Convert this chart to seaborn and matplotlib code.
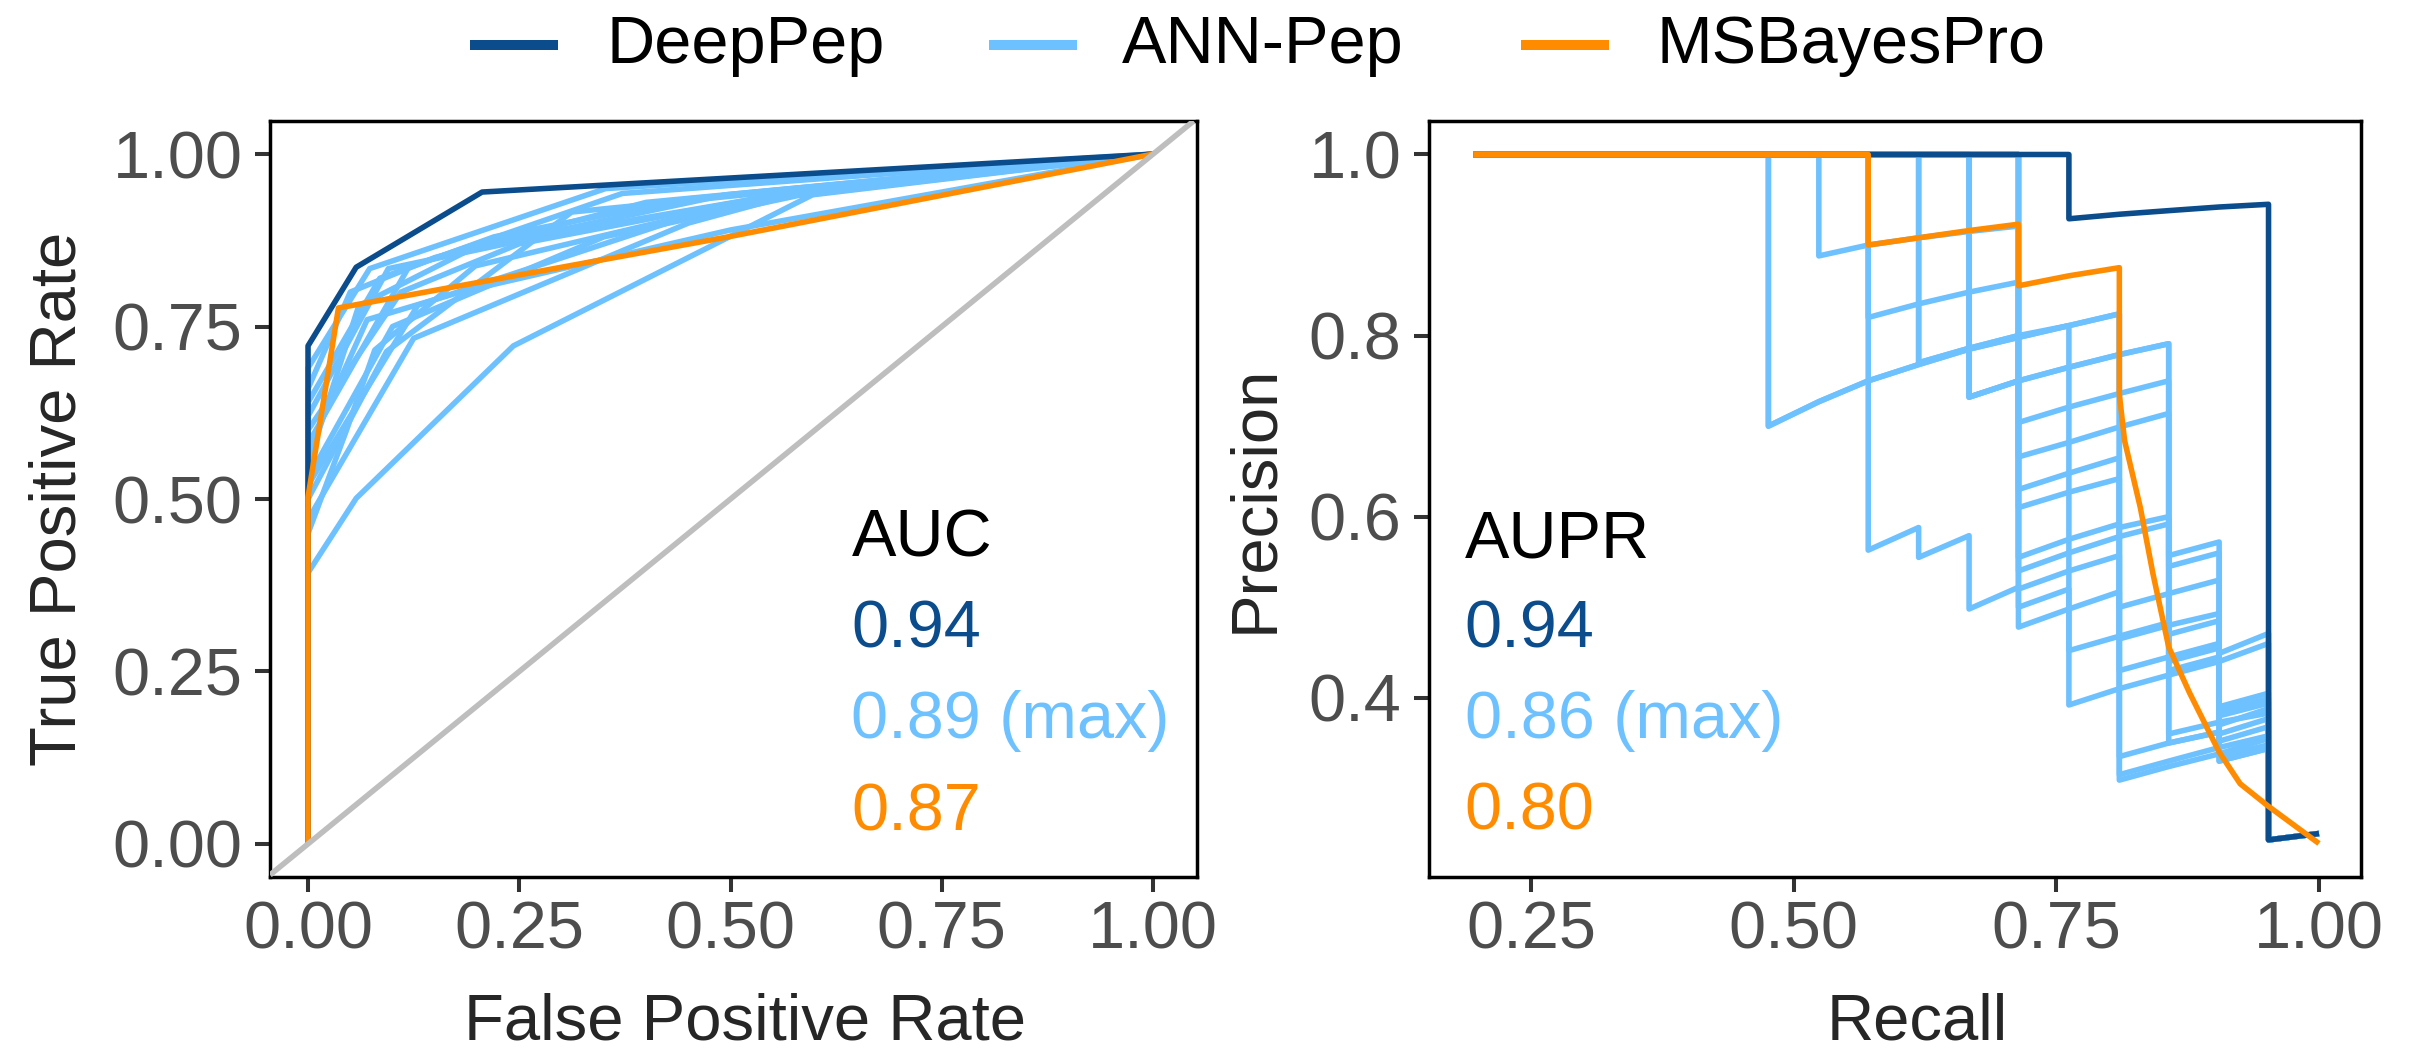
import matplotlib
matplotlib.use('Agg')
import matplotlib.pyplot as plt
import pandas as pd
import seaborn as sns
from matplotlib.lines import Line2D

# method names, colours and summary scores
methods = ['DeepPep', 'ANN-Pep', 'MSBayesPro']
colors = ['#0B4C8C', '#6EC1FF', '#FF8C00']
auc_labels = ['0.94', '0.89 (max)', '0.87']
aupr_labels = ['0.94', '0.86 (max)', '0.80']

# ROC curves
deeppep_fpr = [0, 0, 0.057, 0.206, 1.0]
deeppep_tpr = [0, 0.722, 0.836, 0.945, 1.0]
msb_fpr = [0, 0, 0.036, 0.497, 1.0]
msb_tpr = [0, 0.503, 0.777, 0.880, 1.0]
ann_fpr = [
    [0, 0, 0.073, 0.352, 1.0],
    [0, 0, 0.095, 0.300, 0.600, 1.0],
    [0, 0, 0.119, 0.372, 1.0],
    [0, 0, 0.060, 0.194, 0.494, 1.0],
    [0, 0, 0.130, 0.430, 0.600, 1.0],
    [0, 0, 0.093, 0.312, 1.0],
    [0, 0, 0.125, 0.450, 0.600, 1.0],
    [0, 0, 0.045, 0.079, 0.198, 0.550, 1.0],
    [0, 0, 0.057, 0.243, 0.597, 1.0],
    [0, 0, 0.110, 0.250, 0.570, 1.0],
    [0, 0, 0.050, 0.150, 0.400, 1.0],
    [0, 0, 0.100, 0.350, 0.580, 1.0],
    [0, 0, 0.085, 0.220, 0.450, 1.0],
    [0, 0, 0.070, 0.180, 0.500, 1.0],
]
ann_tpr = [
    [0, 0.69, 0.834, 0.950, 1.0],
    [0, 0.62, 0.834, 0.887, 0.950, 1.0],
    [0, 0.58, 0.836, 0.943, 1.0],
    [0, 0.55, 0.780, 0.863, 0.941, 1.0],
    [0, 0.52, 0.781, 0.902, 0.950, 1.0],
    [0, 0.50, 0.714, 0.916, 1.0],
    [0, 0.47, 0.733, 0.900, 0.950, 1.0],
    [0, 0.45, 0.598, 0.716, 0.838, 0.940, 1.0],
    [0, 0.393, 0.501, 0.722, 0.941, 1.0],
    [0, 0.60, 0.800, 0.870, 0.945, 1.0],
    [0, 0.66, 0.800, 0.850, 0.930, 1.0],
    [0, 0.53, 0.750, 0.880, 0.940, 1.0],
    [0, 0.64, 0.820, 0.880, 0.935, 1.0],
    [0, 0.57, 0.760, 0.800, 0.890, 1.0],
]

# precision-recall curves
deeppep_recall = [0.195, 0.762, 0.762, 0.810, 0.857, 0.905, 0.952, 0.952, 1.0]
deeppep_precision = [1.0, 1.0, 0.929, 0.934, 0.938, 0.942, 0.945, 0.243, 0.25]
msb_recall = [0.195, 0.571, 0.571, 0.619, 0.667, 0.714, 0.714, 0.762, 0.810, 0.810,
              0.815, 0.830, 0.842, 0.857, 0.877, 0.905, 0.925, 0.952, 1.0]
msb_precision = [1.0, 1.0, 0.900, 0.908, 0.916, 0.923, 0.855, 0.866, 0.875, 0.735,
                 0.684, 0.610, 0.537, 0.456, 0.405, 0.340, 0.305, 0.280, 0.239]
ann_recall = [
    [0.195, 0.476, 0.476, 0.524, 0.571, 0.619, 0.667, 0.714, 0.762, 0.810, 0.810, 0.857, 0.857, 0.905, 0.905, 0.952, 0.952, 1.0],
    [0.195, 0.524, 0.524, 0.571, 0.619, 0.667, 0.714, 0.714, 0.762, 0.810, 0.857, 0.857, 0.905, 0.905, 0.952, 0.952, 1.0],
    [0.195, 0.571, 0.571, 0.619, 0.619, 0.667, 0.667, 0.714, 0.714, 0.762, 0.810, 0.810, 0.857, 0.905, 0.952, 0.952, 1.0],
    [0.195, 0.571, 0.571, 0.619, 0.667, 0.714, 0.714, 0.762, 0.810, 0.857, 0.857, 0.905, 0.905, 0.952, 0.952, 1.0],
    [0.195, 0.619, 0.619, 0.667, 0.714, 0.714, 0.762, 0.810, 0.810, 0.857, 0.905, 0.905, 0.952, 0.952, 1.0],
    [0.195, 0.667, 0.667, 0.714, 0.762, 0.810, 0.857, 0.857, 0.905, 0.905, 0.952, 0.952, 1.0],
    [0.195, 0.714, 0.714, 0.762, 0.810, 0.810, 0.857, 0.905, 0.905, 0.952, 0.952, 1.0],
    [0.195, 0.714, 0.714, 0.762, 0.810, 0.810, 0.857, 0.905, 0.905, 0.952, 0.952, 1.0],
    [0.195, 0.619, 0.619, 0.667, 0.714, 0.762, 0.762, 0.810, 0.857, 0.857, 0.905, 0.952, 0.952, 1.0],
    [0.195, 0.714, 0.714, 0.762, 0.810, 0.857, 0.857, 0.905, 0.905, 0.952, 0.952, 1.0],
    [0.195, 0.714, 0.714, 0.762, 0.762, 0.810, 0.857, 0.905, 0.905, 0.952, 0.952, 1.0],
    [0.195, 0.667, 0.667, 0.714, 0.714, 0.762, 0.810, 0.810, 0.857, 0.905, 0.905, 0.952, 0.952, 1.0],
    [0.195, 0.667, 0.667, 0.714, 0.762, 0.810, 0.857, 0.857, 0.905, 0.905, 0.952, 0.952, 1.0],
    [0.195, 0.476, 0.476, 0.524, 0.571, 0.619, 0.667, 0.714, 0.762, 0.810, 0.810, 0.857, 0.905, 0.952, 0.952, 1.0],
]
ann_precision = [
    [1, 1, 0.700, 0.727, 0.750, 0.768, 0.785, 0.798, 0.811, 0.824, 0.588, 0.600, 0.557, 0.572, 0.449, 0.471, 0.243, 0.25],
    [1, 1, 0.888, 0.900, 0.908, 0.915, 0.921, 0.704, 0.721, 0.736, 0.750, 0.545, 0.560, 0.360, 0.377, 0.243, 0.25],
    [1, 1, 0.563, 0.588, 0.555, 0.579, 0.498, 0.522, 0.478, 0.498, 0.517, 0.309, 0.324, 0.338, 0.355, 0.243, 0.25],
    [1, 1, 0.820, 0.835, 0.848, 0.859, 0.666, 0.682, 0.699, 0.714, 0.440, 0.455, 0.335, 0.348, 0.243, 0.25],
    [1, 1, 0.770, 0.786, 0.800, 0.610, 0.627, 0.642, 0.500, 0.515, 0.530, 0.440, 0.460, 0.243, 0.25],
    [1, 1, 0.732, 0.750, 0.765, 0.779, 0.791, 0.470, 0.485, 0.390, 0.405, 0.243, 0.25],
    [1, 1, 0.555, 0.575, 0.592, 0.465, 0.480, 0.493, 0.370, 0.388, 0.243, 0.25],
    [1, 1, 0.630, 0.648, 0.665, 0.430, 0.445, 0.460, 0.380, 0.394, 0.243, 0.25],
    [1, 1, 0.770, 0.786, 0.800, 0.811, 0.452, 0.468, 0.483, 0.360, 0.373, 0.383, 0.243, 0.25],
    [1, 1, 0.540, 0.560, 0.578, 0.592, 0.430, 0.445, 0.385, 0.399, 0.243, 0.25],
    [1, 1, 0.500, 0.520, 0.392, 0.410, 0.425, 0.440, 0.352, 0.368, 0.243, 0.25],
    [1, 1, 0.732, 0.750, 0.520, 0.540, 0.557, 0.335, 0.350, 0.362, 0.330, 0.344, 0.243, 0.25],
    [1, 1, 0.732, 0.750, 0.765, 0.779, 0.791, 0.350, 0.362, 0.330, 0.344, 0.243, 0.25],
    [1, 1, 0.700, 0.727, 0.750, 0.768, 0.785, 0.798, 0.811, 0.824, 0.315, 0.330, 0.345, 0.358, 0.243, 0.25],
]


def curves_frame(xs, ys):
    rows = []
    for cid, (cx, cy) in enumerate(zip(xs, ys)):
        for x, y in zip(cx, cy):
            rows.append((cid, x, y))
    return pd.DataFrame(rows, columns=['curve', 'x', 'y'])


W, H = 2413, 1048
LW = 4.0
FS = 48

sns.set_theme(style='white')
plt.rcParams['font.family'] = ['Liberation Sans', 'DejaVu Sans']
plt.rcParams['lines.solid_capstyle'] = 'butt'

fig = plt.figure(figsize=(W / 100, H / 100), dpi=100)
ax_roc = fig.add_axes([270 / W, 1 - 877 / H, (1197 - 270) / W, (877 - 121) / H])
ax_pr = fig.add_axes([1429 / W, 1 - 877 / H, (2361 - 1429) / W, (877 - 121) / H])

roc_sets = [
    (ann_fpr, ann_tpr, colors[1]),
    ([deeppep_fpr], [deeppep_tpr], colors[0]),
    ([msb_fpr], [msb_tpr], colors[2]),
]
pr_sets = [
    (ann_recall, ann_precision, colors[1]),
    ([deeppep_recall], [deeppep_precision], colors[0]),
    ([msb_recall], [msb_precision], colors[2]),
]

for xs, ys, c in roc_sets:
    sns.lineplot(data=curves_frame(xs, ys), x='x', y='y', units='curve', estimator=None,
                 sort=False, color=c, linewidth=LW, ax=ax_roc, legend=False)
ax_roc.axline((0, 0), (1, 1), color='#BEBEBE', linewidth=LW, zorder=5)

for xs, ys, c in pr_sets:
    sns.lineplot(data=curves_frame(xs, ys), x='x', y='y', units='curve', estimator=None,
                 sort=False, color=c, linewidth=LW, ax=ax_pr, legend=False)

ax_roc.set_xlim(-0.045, 1.052)
ax_roc.set_ylim(-0.048, 1.048)
ax_roc.set_xticks([0, 0.25, 0.5, 0.75, 1.0])
ax_roc.set_yticks([0, 0.25, 0.5, 0.75, 1.0])
ax_roc.set_xticklabels(['0.00', '0.25', '0.50', '0.75', '1.00'])
ax_roc.set_yticklabels(['0.00', '0.25', '0.50', '0.75', '1.00'])

ax_pr.set_xlim(0.153, 1.040)
ax_pr.set_ylim(0.202, 1.037)
ax_pr.set_xticks([0.25, 0.5, 0.75, 1.0])
ax_pr.set_yticks([0.4, 0.6, 0.8, 1.0])
ax_pr.set_xticklabels(['0.25', '0.50', '0.75', '1.00'])
ax_pr.set_yticklabels(['0.4', '0.6', '0.8', '1.0'])

for ax in (ax_roc, ax_pr):
    ax.set_xlabel('')
    ax.set_ylabel('')
    for s in ax.spines.values():
        s.set_visible(True)
        s.set_color('black')
        s.set_linewidth(2.5)
    ax.tick_params(axis='both', which='major', bottom=True, left=True, direction='out',
                   length=10.8, width=2.9, color='#333333', labelsize=FS,
                   labelcolor='#4D4D4D')
    ax.tick_params(axis='y', pad=9)
    ax.tick_params(axis='x', pad=6)

# score annotations
ax_roc.text(0.643, 0.416, 'AUC', fontsize=FS, color='black', va='baseline', ha='left')
for lab, c, y in zip(auc_labels, colors, [0.284, 0.154, 0.020]):
    ax_roc.text(0.643, y, lab, fontsize=FS, color=c, va='baseline', ha='left')

ax_pr.text(0.187, 0.555, 'AUPR', fontsize=FS, color='black', va='baseline', ha='left')
for lab, c, y in zip(aupr_labels, colors, [0.455, 0.356, 0.254]):
    ax_pr.text(0.187, y, lab, fontsize=FS, color=c, va='baseline', ha='left')

# axis titles
fig.text(745 / W, 1 - 1039 / H, 'False Positive Rate', fontsize=47, ha='center', va='baseline')
fig.text(1917 / W, 1 - 1039 / H, 'Recall', fontsize=47, ha='center', va='baseline')
fig.text(76 / W, 1 - 499 / H, 'True Positive Rate', fontsize=47, rotation=90,
         rotation_mode='anchor', ha='center', va='baseline')
fig.text(1272 / W, 1 - 499 / H, 'Precision', fontsize=47, rotation=90,
         rotation_mode='anchor', ha='center', va='baseline')

# legend across the top
key_x = [470, 989, 1521]
text_x = [607, 1122, 1656]
for name, c, kx, tx in zip(methods, colors, key_x, text_x):
    fig.add_artist(Line2D([kx / W, (kx + 88) / W], [1 - 45 / H, 1 - 45 / H],
                          color=c, linewidth=7.2, transform=fig.transFigure))
    fig.text(tx / W, 1 - 63 / H, name, fontsize=FS, color='black', ha='left', va='baseline')

fig.savefig('out.png', dpi=100, facecolor='white')
